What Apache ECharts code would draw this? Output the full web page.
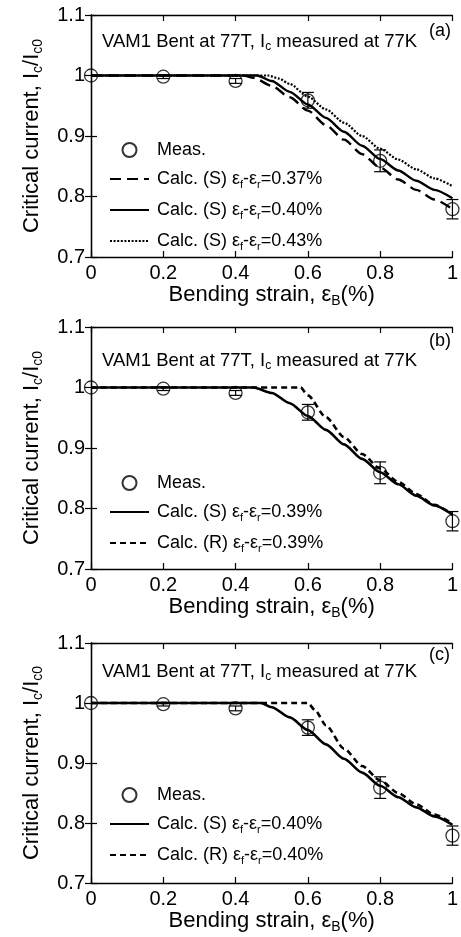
<!DOCTYPE html>
<html>
<head>
<meta charset="utf-8">
<script src="https://cdn.jsdelivr.net/npm/echarts@6/dist/echarts.min.js"></script>
<style>
  html, body { margin: 0; padding: 0; background: #fff; }
  #chart { width: 461px; height: 937px; }
</style>
</head>
<body>
<div id="chart"></div>
<script>
// axis ticks
const xTicks = [0, 0.2, 0.4, 0.6, 0.8, 1];
const yMin = 0.7, yMax = 1.1, yStep = 0.1;

// measured points (same sample in all three panels)
const measX = [0, 0.2, 0.4, 0.6, 0.8, 1.0];
const measY = [1.0, 0.998, 0.991, 0.959, 0.859, 0.779];
const measErr = [0, 0.003, 0.004, 0.013, 0.018, 0.016];

// (a) calc (S) for three ef-er values
const a37X = [0, 0.42, 0.45, 0.5, 0.55, 0.6, 0.65, 0.7, 0.75, 0.8, 0.85, 0.9, 0.95, 1.0];
const a37Y = [1, 1, 0.996, 0.983, 0.964, 0.942, 0.918, 0.894, 0.870, 0.848, 0.828, 0.811, 0.795, 0.779];
const a40X = [0, 0.46, 0.5, 0.55, 0.6, 0.65, 0.7, 0.75, 0.8, 0.85, 0.9, 0.95, 1.0];
const a40Y = [1, 1, 0.991, 0.973, 0.952, 0.930, 0.907, 0.884, 0.862, 0.843, 0.826, 0.811, 0.797];
const a43X = [0, 0.49, 0.52, 0.55, 0.6, 0.65, 0.7, 0.75, 0.8, 0.85, 0.9, 0.95, 1.0];
const a43Y = [1, 1, 0.995, 0.986, 0.965, 0.944, 0.922, 0.900, 0.879, 0.861, 0.845, 0.830, 0.817];

// (b) calc (S) and (R), 0.39%
const b39SX = [0, 0.45, 0.5, 0.55, 0.6, 0.65, 0.7, 0.75, 0.8, 0.85, 0.9, 0.95, 1.0];
const b39SY = [1, 1, 0.991, 0.974, 0.953, 0.930, 0.906, 0.882, 0.860, 0.840, 0.821, 0.805, 0.790];
const b39RX = [0, 0.58, 0.6, 0.65, 0.7, 0.75, 0.8, 0.85, 0.9, 0.95, 1.0];
const b39RY = [1, 1, 0.987, 0.951, 0.918, 0.890, 0.866, 0.844, 0.824, 0.806, 0.790];

// (c) calc (S) and (R), 0.40%
const c40SX = [0, 0.47, 0.5, 0.55, 0.6, 0.65, 0.7, 0.75, 0.8, 0.85, 0.9, 0.95, 1.0];
const c40SY = [1, 1, 0.993, 0.976, 0.955, 0.931, 0.907, 0.884, 0.862, 0.843, 0.826, 0.811, 0.797];
const c40RX = [0, 0.6, 0.62, 0.65, 0.7, 0.75, 0.8, 0.85, 0.9, 0.95, 1.0];
const c40RY = [1, 1, 0.988, 0.963, 0.924, 0.895, 0.871, 0.850, 0.831, 0.814, 0.799];

const panelTags = ['(a)', '(b)', '(c)'];
const legendText = {
  'Meas.': '{t|Meas.}',
  a37: '{t|Calc. (S) ε}{s|f}{t|-ε}{s|r}{t|=0.37%}',
  a40: '{t|Calc. (S) ε}{s|f}{t|-ε}{s|r}{t|=0.40%}',
  a43: '{t|Calc. (S) ε}{s|f}{t|-ε}{s|r}{t|=0.43%}',
  b39S: '{t|Calc. (S) ε}{s|f}{t|-ε}{s|r}{t|=0.39%}',
  b39R: '{t|Calc. (R) ε}{s|f}{t|-ε}{s|r}{t|=0.39%}',
  c40S: '{t|Calc. (S) ε}{s|f}{t|-ε}{s|r}{t|=0.40%}',
  c40R: '{t|Calc. (R) ε}{s|f}{t|-ε}{s|r}{t|=0.40%}'
};

const FONT = 'Liberation Sans, Arial, sans-serif';
const zip = (xs, ys) => xs.map((x, i) => [x, ys[i]]);

const grids = [
  { left: 91, top: 15, width: 365, height: 242 },
  { left: 91, top: 327, width: 365, height: 242 },
  { left: 91, top: 643, width: 366, height: 240 }
];

const xAxes = [], yAxes = [];
grids.forEach((g, i) => {
  const line = { show: true, lineStyle: { color: '#000', width: 1.3 } };
  const tick = { show: true, inside: true, length: 6, lineStyle: { color: '#000', width: 1.2 } };
  const nameRich = {
    t: { fontSize: 22, lineHeight: 26, fontFamily: FONT, color: '#000' },
    s: { fontSize: 14, lineHeight: 14, verticalAlign: 'bottom', fontFamily: FONT, color: '#000' }
  };
  xAxes.push({
    type: 'value', gridIndex: i, min: 0, max: 1, interval: 0.2,
    axisLine: line, axisTick: tick, splitLine: { show: false },
    axisLabel: { color: '#000', fontSize: 20, fontFamily: FONT, margin: 6 },
    name: '{t|Bending strain, ε}{s|B}{t|(%)}',
    nameLocation: 'middle', nameGap: 23,
    nameTextStyle: { color: '#000', fontFamily: FONT, rich: nameRich }
  });
  xAxes.push({
    type: 'value', gridIndex: i, position: 'top', min: 0, max: 1, interval: 0.2,
    axisLine: line, axisTick: tick, axisLabel: { show: false }, splitLine: { show: false }
  });
  yAxes.push({
    type: 'value', gridIndex: i, min: yMin, max: yMax, interval: yStep,
    axisLine: line, axisTick: tick, splitLine: { show: false },
    axisLabel: { color: '#000', fontSize: 20, fontFamily: FONT, margin: 6 },
    name: '{t|Critical current, I}{s|c}{t|/I}{s|c0}',
    nameLocation: 'middle', nameGap: 46,
    nameTextStyle: { color: '#000', fontFamily: FONT, rich: nameRich }
  });
  yAxes.push({
    type: 'value', gridIndex: i, position: 'right', min: yMin, max: yMax, interval: yStep,
    axisLine: line, axisTick: tick, axisLabel: { show: false }, splitLine: { show: false }
  });
});

const series = [];
function calc(name, panel, xs, ys, dash, width) {
  series.push({
    name: name, type: 'line', xAxisIndex: panel * 2, yAxisIndex: panel * 2,
    data: zip(xs, ys), symbol: 'none', smooth: 0.25, smoothMonotone: 'x',
    itemStyle: { color: 'rgba(0,0,0,0)', borderColor: 'rgba(0,0,0,0)', borderWidth: 0 },
    lineStyle: { color: '#000', width: width, type: dash },
    z: 3
  });
}
calc('a37', 0, a37X, a37Y, [11, 6], 2.4);
calc('a40', 0, a40X, a40Y, 'solid', 2.4);
calc('a43', 0, a43X, a43Y, [2, 1.6], 2.2);
calc('b39S', 1, b39SX, b39SY, 'solid', 2.6);
calc('b39R', 1, b39RX, b39RY, [6, 4], 2.6);
calc('c40S', 2, c40SX, c40SY, 'solid', 2.6);
calc('c40R', 2, c40RX, c40RY, [6, 4], 2.6);

const measData = measX.map((x, i) => [x, measY[i], measErr[i]]);
for (let p = 0; p < 3; p++) {
  series.push({
    name: 'Meas.', type: 'scatter', xAxisIndex: p * 2, yAxisIndex: p * 2,
    data: zip(measX, measY), symbol: 'circle', symbolSize: 13,
    itemStyle: { color: 'rgba(0,0,0,0)', borderColor: '#000', borderWidth: 1.3 },
    z: 4
  });
  series.push({
    type: 'custom', xAxisIndex: p * 2, yAxisIndex: p * 2,
    data: measData, z: 4, silent: true,
    renderItem: function (params, api) {
      const x = api.value(0), y = api.value(1), e = api.value(2);
      if (!e) return null;
      const hi = api.coord([x, y + e]);
      const lo = api.coord([x, y - e]);
      const hw = 6;
      const st = { stroke: '#000', lineWidth: 1.2 };
      return {
        type: 'group',
        children: [
          { type: 'line', shape: { x1: hi[0], y1: hi[1], x2: lo[0], y2: lo[1] }, style: st },
          { type: 'line', shape: { x1: hi[0] - hw, y1: hi[1], x2: hi[0] + hw, y2: hi[1] }, style: st },
          { type: 'line', shape: { x1: lo[0] - hw, y1: lo[1], x2: lo[0] + hw, y2: lo[1] }, style: st }
        ]
      };
    }
  });
}

const legendRich = {
  t: { fontSize: 18, lineHeight: 22, fontFamily: FONT, color: '#000' },
  s: { fontSize: 11, lineHeight: 12, verticalAlign: 'bottom', fontFamily: FONT, color: '#000' }
};
function legend(top, names) {
  return {
    orient: 'vertical', left: 109, top: top, padding: 0,
    itemWidth: 39, itemHeight: 14, itemGap: 11,
    data: names, selectedMode: false,
    formatter: n => legendText[n],
    textStyle: { padding: [0, 0, 0, 3], rich: legendRich }
  };
}

const noteRich = {
  t: { fontSize: 18.5, lineHeight: 22, fontFamily: FONT, fill: '#000' },
  s: { fontSize: 12, lineHeight: 12, verticalAlign: 'bottom', fontFamily: FONT, fill: '#000' }
};
const noteTops = [32, 351, 662];
const tagTops = [22, 332, 646];
const graphic = [];
for (let p = 0; p < 3; p++) {
  graphic.push({
    type: 'text', left: 102, top: noteTops[p],
    style: { text: '{t|VAM1 Bent at 77T, I}{s|c}{t| measured at 77K}', rich: noteRich, fill: '#000' }
  });
  graphic.push({
    type: 'text', left: 429, top: tagTops[p],
    style: { text: panelTags[p], font: '18px ' + FONT, fill: '#000' }
  });
}

const chart = echarts.init(document.getElementById('chart'), null, { renderer: 'canvas' });
chart.setOption({
  backgroundColor: '#fff',
  animation: false,
  textStyle: { fontFamily: FONT },
  grid: grids,
  xAxis: xAxes,
  yAxis: yAxes,
  legend: [
    legend(141, ['Meas.', 'a37', 'a40', 'a43']),
    legend(474, ['Meas.', 'b39S', 'b39R']),
    legend(786, ['Meas.', 'c40S', 'c40R'])
  ],
  graphic: graphic,
  series: series
});
</script>
</body>
</html>
